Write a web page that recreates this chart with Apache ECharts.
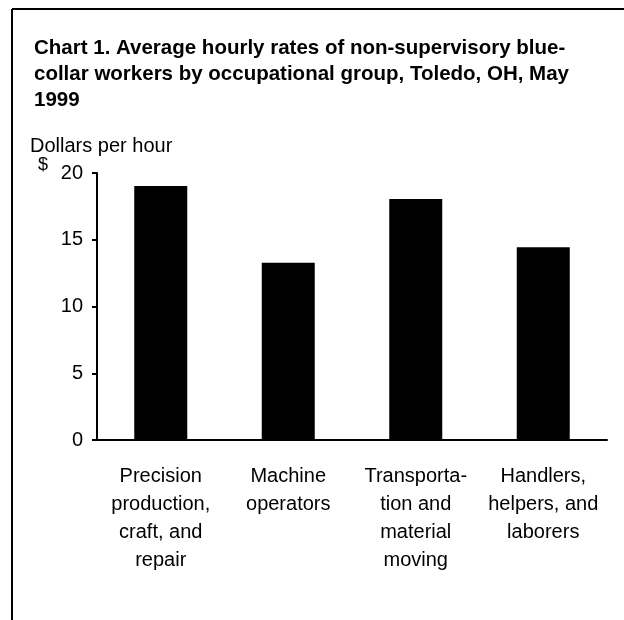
<!DOCTYPE html>
<html>
<head>
<meta charset="utf-8">
<script src="https://cdn.jsdelivr.net/npm/echarts@6/dist/echarts.min.js"></script>
<style>
  html, body { margin: 0; padding: 0; background: #fff; }
  #chart { width: 624px; height: 620px; }
</style>
</head>
<body>
<div id="chart"></div>
<script>
var categories = [
    'Precision\nproduction,\ncraft, and\nrepair',
    'Machine\noperators',
    'Transporta-\ntion and\nmaterial\nmoving',
    'Handlers,\nhelpers, and\nlaborers'
];
var hourlyRates = [19.03, 13.28, 18.05, 14.43];
var yTicks = [0, 5, 10, 15, 20];

var font = '"Liberation Sans", Arial, sans-serif';
var myChart = echarts.init(document.getElementById('chart'));

var option = {
    backgroundColor: '#fff',
    animation: false,
    title: [{
        text: 'Chart 1. Average hourly rates of non-supervisory blue-\ncollar workers by occupational group, Toledo, OH, May\n1999',
        left: 29, top: 30,
        textStyle: { fontFamily: font, fontSize: 20.5, fontWeight: 'bold', color: '#000', lineHeight: 26 }
    }, {
        text: 'Dollars per hour',
        left: 25, top: 131,
        textStyle: { fontFamily: font, fontSize: 20, fontWeight: 'normal', color: '#000' }
    }, {
        text: '$',
        left: 33, top: 151,
        textStyle: { fontFamily: font, fontSize: 18, fontWeight: 'normal', color: '#000' }
    }],
    graphic: [{
        type: 'line', shape: { x1: 12, y1: 9, x2: 624, y2: 9 },
        style: { stroke: '#000', lineWidth: 2 }
    }, {
        type: 'line', shape: { x1: 12, y1: 9, x2: 12, y2: 620 },
        style: { stroke: '#000', lineWidth: 2 }
    }],
    grid: { left: 97, right: 17, top: 173, bottom: 180 },
    xAxis: {
        type: 'category',
        data: categories,
        axisLine: { show: true, lineStyle: { color: '#000', width: 2 } },
        axisTick: { show: false },
        axisLabel: {
            interval: 0, margin: 22,
            fontFamily: font, fontSize: 20, lineHeight: 28, color: '#000', align: 'center'
        }
    },
    yAxis: {
        type: 'value',
        min: yTicks[0], max: yTicks[yTicks.length - 1], interval: 5,
        axisLine: { show: true, lineStyle: { color: '#000', width: 2 } },
        axisTick: { show: true, length: 5, lineStyle: { color: '#000', width: 2 } },
        axisLabel: { margin: 14, fontFamily: font, fontSize: 20, color: '#000' },
        splitLine: { show: false }
    },
    series: [{
        type: 'bar',
        data: hourlyRates,
        barWidth: 53,
        itemStyle: { color: '#000' }
    }]
};
myChart.setOption(option);
</script>
</body>
</html>
